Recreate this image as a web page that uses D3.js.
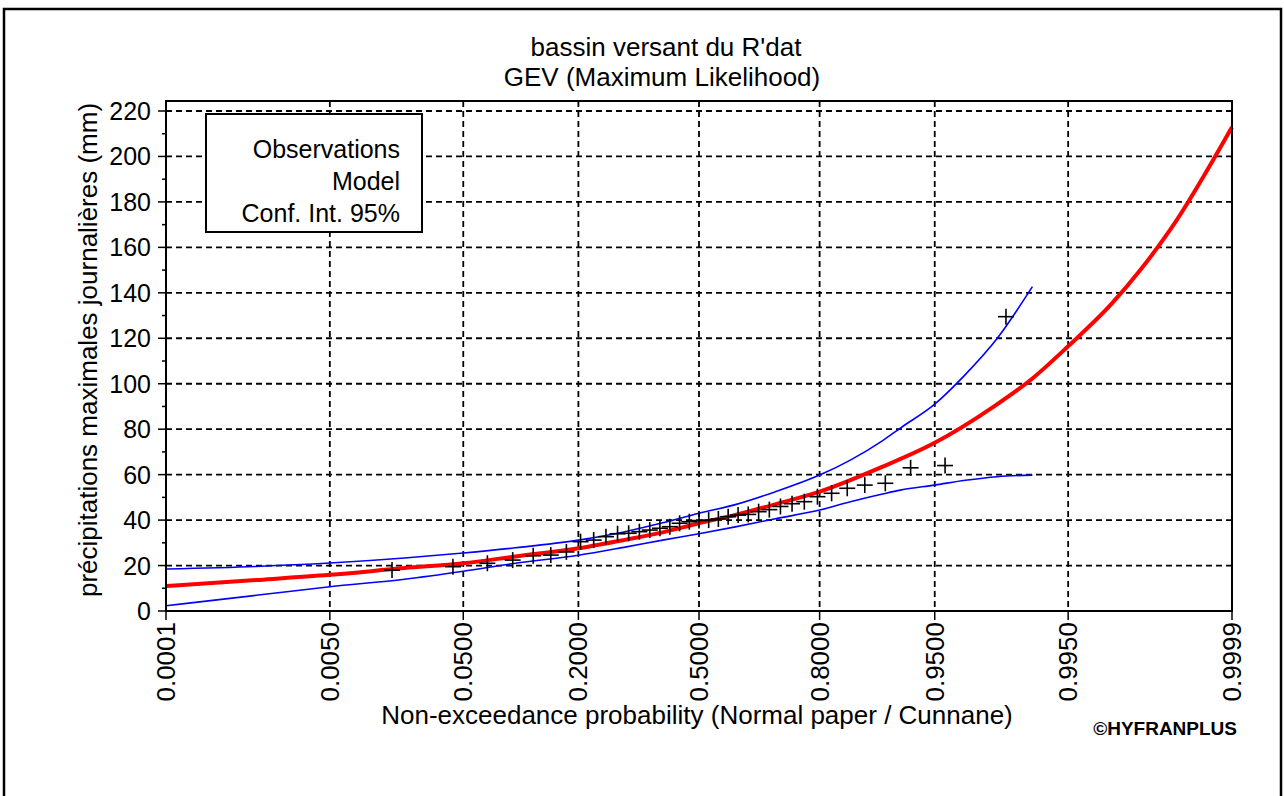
<!DOCTYPE html>
<html lang="fr">
<head>
<meta charset="UTF-8">
<title>bassin versant du R'dat - GEV</title>
<style>
    body { margin: 0; background: #fff; }
    svg { display: block; font-family: "Liberation Sans", Arial, sans-serif; }
    .grid line { stroke: #000; stroke-width: 1.8; stroke-dasharray: 6,4; }
    .tick-label { font-size: 25px; fill: #000; }
</style>
<script src="https://d3js.org/d3.v7.min.js"></script>
</head>
<body>
<script>
// x axis ticks (non-exceedance probability, normal paper)
const probTicks = [0.0001, 0.005, 0.05, 0.2, 0.5, 0.8, 0.95, 0.995, 0.9999];
const probLabels = ["0.0001", "0.0050", "0.0500", "0.2000", "0.5000", "0.8000", "0.9500", "0.9950", "0.9999"];
const yTicks = [0, 20, 40, 60, 80, 100, 120, 140, 160, 180, 200, 220];

// observations (Cunnane plotting positions)
const obsProb = [0.0161, 0.0430, 0.0699, 0.0968, 0.1237, 0.1505, 0.1774, 0.2043, 0.2312, 0.2581,
                 0.2849, 0.3118, 0.3387, 0.3656, 0.3925, 0.4194, 0.4462, 0.4731, 0.5000, 0.5269,
                 0.5538, 0.5806, 0.6075, 0.6344, 0.6613, 0.6882, 0.7151, 0.7419, 0.7688, 0.7957,
                 0.8226, 0.8495, 0.8763, 0.9032, 0.9301, 0.9570, 0.9839];
const obsValue = [18.0, 19.5, 21.0, 22.4, 24.3, 24.6, 26.0, 30.5, 31.2, 32.7,
                  34.0, 34.2, 34.9, 35.6, 36.4, 37.1, 38.6, 39.3, 39.8, 40.0,
                  40.5, 41.5, 42.2, 42.5, 43.7, 44.6, 46.0, 47.2, 48.1, 50.3,
                  51.8, 54.0, 55.4, 56.2, 63.0, 64.0, 129.5];

// GEV model
const modelProb = [0.0001, 0.001, 0.005, 0.02, 0.05, 0.1, 0.2, 0.3, 0.4, 0.5, 0.6, 0.7, 0.8,
                   0.9, 0.95, 0.98, 0.99, 0.995, 0.998, 0.999, 0.9995, 0.9999];
const modelValue = [11.0, 13.6, 15.9, 18.9, 21.0, 24.0, 27.6, 31.2, 34.6, 38.6, 42.3, 46.8, 52.5,
                    63.5, 74.0, 89.8, 102.3, 116.5, 135.1, 150.9, 168.0, 213.0];

// 95% confidence interval
const ciProb = [0.0001, 0.001, 0.005, 0.02, 0.05, 0.1, 0.2, 0.3, 0.4, 0.5, 0.6, 0.7, 0.8,
                0.8545, 0.9, 0.92, 0.95, 0.9684, 0.9813, 0.99];
const ciUpper = [18.5, 19.6, 21.1, 23.3, 25.5, 27.8, 31.2, 34.8, 38.8, 43.0, 46.8, 52.3, 59.8,
                 66.4, 75.0, 80.5, 91.0, 104.0, 120.0, 142.7];
const ciLower = [2.3, 6.9, 10.7, 14.0, 17.5, 21.0, 24.5, 28.0, 31.2, 34.0, 37.0, 40.5, 44.4,
                 48.1, 51.5, 53.2, 55.4, 57.5, 59.1, 59.8];

const legendItems = ["Observations", "Model", "Conf. Int. 95%"];

// inverse of the standard normal CDF (Acklam)
function normInv(p) {
    const a = [-39.69683028665376, 220.9460984245205, -275.9285104469687, 138.3577518672690, -30.66479806614716, 2.506628277459239];
    const b = [-54.47609879822406, 161.5858368580409, -155.6989798598866, 66.80131188771972, -13.28068155288572];
    const c = [-0.007784894002430293, -0.3223964580411365, -2.400758277161838, -2.549732539343734, 4.374664141464968, 2.938163982698783];
    const d = [0.007784695709041462, 0.3224671290700398, 2.445134137142996, 3.754408661907416];
    const pl = 0.02425;
    let q, r;
    if (p < pl) {
        q = Math.sqrt(-2 * Math.log(p));
        return (((((c[0]*q+c[1])*q+c[2])*q+c[3])*q+c[4])*q+c[5]) / ((((d[0]*q+d[1])*q+d[2])*q+d[3])*q+1);
    } else if (p <= 1 - pl) {
        q = p - 0.5; r = q * q;
        return (((((a[0]*r+a[1])*r+a[2])*r+a[3])*r+a[4])*r+a[5])*q / (((((b[0]*r+b[1])*r+b[2])*r+b[3])*r+b[4])*r+1);
    } else {
        q = Math.sqrt(-2 * Math.log(1 - p));
        return -(((((c[0]*q+c[1])*q+c[2])*q+c[3])*q+c[4])*q+c[5]) / ((((d[0]*q+d[1])*q+d[2])*q+d[3])*q+1);
    }
}

let width = 1284, height = 796;
let plot = {left: 166, right: 1232, top: 101, bottom: 611};

let svg = d3.select("body").append("svg")
    .attr("width", width)
    .attr("height", height);

// outer frame
svg.append("rect")
    .attr("x", 4).attr("y", 9)
    .attr("width", 1277).attr("height", 820)
    .attr("fill", "#fff").attr("stroke", "#000").attr("stroke-width", 2.5);

let zScale = d3.scaleLinear()
    .domain([normInv(0.0001), normInv(0.9999)])
    .range([plot.left, plot.right]);
let x = p => zScale(normInv(p));
let y = d3.scaleLinear().domain([0, 220]).range([plot.bottom, 111]);

// grid
let grid = svg.append("g").attr("class", "grid");
grid.selectAll(".h").data(yTicks.filter(v => v > 0)).enter().append("line")
    .attr("x1", plot.left).attr("x2", plot.right)
    .attr("y1", d => y(d)).attr("y2", d => y(d));
grid.selectAll(".v").data(probTicks.slice(1, -1)).enter().append("line")
    .attr("x1", d => x(d)).attr("x2", d => x(d))
    .attr("y1", plot.top).attr("y2", plot.bottom);

// curves
let line = d3.line().curve(d3.curveMonotoneX);
let toPts = (ps, vs) => ps.map((p, i) => [x(p), y(vs[i])]);

svg.append("path")
    .attr("d", line(toPts(ciProb, ciUpper)))
    .attr("fill", "none").attr("stroke", "#0000ff").attr("stroke-width", 1.6);
svg.append("path")
    .attr("d", line(toPts(ciProb, ciLower)))
    .attr("fill", "none").attr("stroke", "#0000ff").attr("stroke-width", 1.6);
svg.append("path")
    .attr("d", line(toPts(modelProb, modelValue)))
    .attr("fill", "none").attr("stroke", "#ff0000").attr("stroke-width", 4);

// observations as "+"
let obs = svg.append("g").selectAll("g").data(obsProb).enter().append("g")
    .attr("transform", (p, i) => "translate(" + x(p) + "," + y(obsValue[i]) + ")");
obs.append("line").attr("x1", -8).attr("x2", 8).attr("y1", 0).attr("y2", 0)
    .attr("stroke", "#000").attr("stroke-width", 1.6);
obs.append("line").attr("x1", 0).attr("x2", 0).attr("y1", -8).attr("y2", 8)
    .attr("stroke", "#000").attr("stroke-width", 1.6);

// plot frame
svg.append("rect")
    .attr("x", plot.left).attr("y", plot.top)
    .attr("width", plot.right - plot.left).attr("height", plot.bottom - plot.top)
    .attr("fill", "none").attr("stroke", "#000").attr("stroke-width", 2);

// y axis ticks and labels
svg.append("g").selectAll("line").data(d3.range(0, 221, 10)).enter().append("line")
    .attr("x1", d => d % 20 === 0 ? plot.left - 8 : plot.left - 4).attr("x2", plot.left)
    .attr("y1", d => y(d)).attr("y2", d => y(d))
    .attr("stroke", "#000").attr("stroke-width", 1.5);
svg.append("g").selectAll("text").data(yTicks).enter().append("text")
    .attr("class", "tick-label")
    .attr("x", 151).attr("y", d => y(d) + 9)
    .attr("text-anchor", "end")
    .text(d => d);

// x axis ticks and labels
svg.append("g").selectAll("line").data(probTicks).enter().append("line")
    .attr("x1", d => x(d)).attr("x2", d => x(d))
    .attr("y1", plot.bottom).attr("y2", plot.bottom + 9)
    .attr("stroke", "#000").attr("stroke-width", 1.5);
svg.append("g").selectAll("text").data(probTicks).enter().append("text")
    .attr("class", "tick-label")
    .style("font-size", "26px")
    .attr("transform", d => "translate(" + (x(d) + 9) + "," + 622 + ") rotate(-90)")
    .attr("text-anchor", "end")
    .text((d, i) => probLabels[i]);

// titles
svg.append("text").attr("x", 666).attr("y", 56).attr("text-anchor", "middle")
    .style("font-size", "26px").text("bassin versant du R'dat");
svg.append("text").attr("x", 662).attr("y", 86).attr("text-anchor", "middle")
    .style("font-size", "26px").text("GEV (Maximum Likelihood)");

svg.append("text")
    .attr("transform", "translate(97," + 350 + ") rotate(-90)")
    .attr("text-anchor", "middle")
    .style("font-size", "26px")
    .text("précipitations maximales journalières (mm)");

svg.append("text").attr("x", 697).attr("y", 724).attr("text-anchor", "middle")
    .style("font-size", "26px")
    .text("Non-exceedance probability (Normal paper / Cunnane)");

svg.append("text").attr("x", 1237).attr("y", 735).attr("text-anchor", "end")
    .style("font-size", "19px").style("font-weight", "bold")
    .text("\u00A9HYFRANPLUS");

// legend
svg.append("rect")
    .attr("x", 206).attr("y", 114).attr("width", 216).attr("height", 118)
    .attr("fill", "#fff").attr("stroke", "#000").attr("stroke-width", 2);
svg.append("g").selectAll("text").data(legendItems).enter().append("text")
    .attr("x", 400).attr("y", (d, i) => 158 + i * 32)
    .attr("text-anchor", "end")
    .style("font-size", "25px")
    .text(d => d);
</script>
</body>
</html>
